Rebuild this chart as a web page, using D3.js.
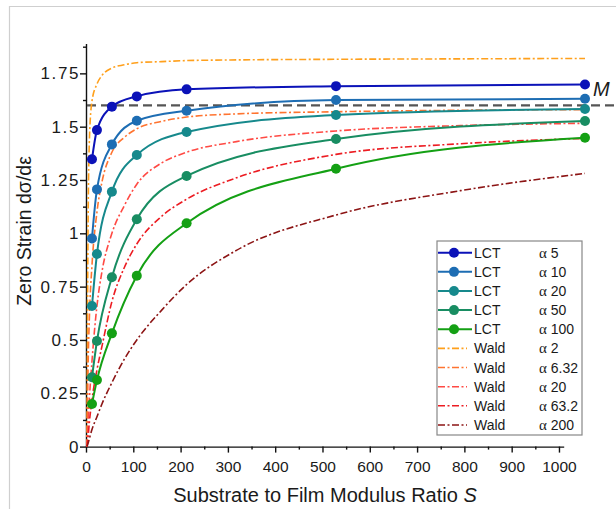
<!DOCTYPE html>
<html>
<head>
    <meta charset="utf-8">
    <style>
        body {
            margin: 0;
            background-color: #FFF;
        }
        svg text {
            font-family: "Liberation Sans", Arial, sans-serif;
            fill: #1a1a1a;
        }
        .greek {
            font-family: "Liberation Serif", "Times New Roman", serif;
        }
    </style>
</head>
<body>
<div id="chartArea"></div>
<script src="https://d3js.org/d3.v7.min.js"></script>
<script>
    /* -----------------------------------
        data
    ----------------------------------- */
    var lctS = [10, 20, 50, 100, 200, 500, 1000];
    var lctAlphas = ["5", "10", "20", "50", "100"];
    var lct5   = [1.347, 1.484, 1.594, 1.642, 1.675, 1.690, 1.698];
    var lct10  = [0.976, 1.206, 1.417, 1.528, 1.575, 1.625, 1.631];
    var lct20  = [0.659, 0.903, 1.195, 1.367, 1.475, 1.555, 1.583];
    var lct50  = [0.325, 0.495, 0.794, 1.066, 1.269, 1.442, 1.527];
    var lct100 = [0.200, 0.312, 0.531, 0.801, 1.047, 1.303, 1.448];
    var lctColors = ["#0b12b8", "#1d6db3", "#16898c", "#188d62", "#14a014"];

    var waldS = [0, 2, 5, 10, 20, 30, 50, 75, 100, 150, 200, 300, 500, 750, 1000];
    var waldAlphas = ["2", "6.32", "20", "63.2", "200"];
    var wald2   = [0, 1.00, 1.45, 1.62, 1.70, 1.74, 1.775, 1.79, 1.80, 1.805, 1.81, 1.813, 1.816, 1.818, 1.82];
    var wald632 = [0, 0.35, 0.62, 0.85, 1.10, 1.24, 1.38, 1.45, 1.49, 1.525, 1.545, 1.56, 1.57, 1.577, 1.58];
    var wald20  = [0, 0.09, 0.23, 0.40, 0.66, 0.82, 1.00, 1.13, 1.23, 1.33, 1.38, 1.43, 1.48, 1.505, 1.516];
    var wald632b = [0, 0.04, 0.12, 0.22, 0.36, 0.47, 0.68, 0.84, 0.95, 1.08, 1.16, 1.26, 1.37, 1.42, 1.445];
    var wald200 = [0, 0.015, 0.04, 0.08, 0.14, 0.20, 0.30, 0.41, 0.50, 0.64, 0.76, 0.92, 1.086, 1.20, 1.281];
    var waldColors = ["#ffa01c", "#ff7430", "#ff4a44", "#ec1c22", "#8c1414"];

    var xTicks = [0, 100, 200, 300, 400, 500, 600, 700, 800, 900, 1000];
    var yTicks = [0, 0.25, 0.5, 0.75, 1, 1.25, 1.5, 1.75];
    var mValue = 1.6;

    /* -----------------------------------
        initialize
    ----------------------------------- */
    var width = 616, height = 509;

    var svg = d3.select("#chartArea").append("svg")
        .attr("width", width)
        .attr("height", height);

    // axis scale and the (slightly wider) data scale of the original figure
    var xAxisScale = d3.scaleLinear().domain([0, 1010]).range([86, 563.7]);
    var x = d3.scaleLinear().domain([0, 1000]).range([87, 585]);
    var y = d3.scaleLinear().domain([0, 1.89]).range([446.6, 43.5]);

    // light frame
    svg.append("path")
        .attr("d", "M9.5," + height + "V6.5H" + width)
        .attr("fill", "none")
        .attr("stroke", "#cfcfcf")
        .attr("stroke-width", 1.2);

    /* -----------------------------------
        axes
    ----------------------------------- */
    var gx = svg.append("g").attr("transform", "translate(0," + y(0) + ")");
    gx.call(d3.axisBottom(xAxisScale).tickValues(xTicks).tickSize(6).tickSizeOuter(0).tickPadding(8)
        .tickFormat(d3.format("d")));
    var gxMinor = svg.append("g").attr("transform", "translate(0," + y(0) + ")");
    gxMinor.call(d3.axisBottom(xAxisScale).tickValues(d3.range(50, 1001, 100)).tickSize(3).tickFormat(""));
    gxMinor.select(".domain").remove();

    var gy = svg.append("g").attr("transform", "translate(" + xAxisScale(0) + ",0)");
    gy.call(d3.axisLeft(y).tickValues(yTicks).tickSize(6).tickSizeOuter(0).tickPadding(0)
        .tickFormat(function(d) { return String(d); }));
    var gyMinor = svg.append("g").attr("transform", "translate(" + xAxisScale(0) + ",0)");
    gyMinor.call(d3.axisLeft(y).tickValues(d3.range(0.125, 1.89, 0.25)).tickSize(3).tickFormat(""));
    gyMinor.select(".domain").remove();

    svg.selectAll(".domain, .tick line")
        .attr("stroke", "#111")
        .attr("stroke-width", 1.4);
    gx.selectAll(".tick text")
        .attr("font-size", 15.5)
        .attr("fill", "#1a1a1a");
    gy.selectAll(".tick text")
        .attr("font-size", 17)
        .attr("letter-spacing", 1.6)
        .attr("fill", "#1a1a1a");

    // titles
    var xt = svg.append("text")
        .attr("x", 325).attr("y", 502)
        .attr("text-anchor", "middle")
        .attr("font-size", 20);
    xt.append("tspan").text("Substrate to Film Modulus Ratio ");
    xt.append("tspan").attr("font-style", "italic").text("S");

    svg.append("text")
        .attr("transform", "translate(31,231) rotate(-90)")
        .attr("text-anchor", "middle")
        .attr("font-size", 19.5)
        .text("Zero Strain d\u03c3/d\u03b5");

    /* -----------------------------------
        M line
    ----------------------------------- */
    svg.append("line")
        .attr("x1", xAxisScale(0) + 1).attr("x2", width)
        .attr("y1", y(mValue)).attr("y2", y(mValue))
        .attr("stroke", "#555")
        .attr("stroke-width", 2.4)
        .attr("stroke-dasharray", "9,5");

    svg.append("text")
        .attr("x", 593).attr("y", 96)
        .attr("font-size", 20)
        .attr("font-style", "italic")
        .attr("fill", "#333")
        .text("M");

    /* -----------------------------------
        curves
    ----------------------------------- */
    var waldSets = [wald2, wald632, wald20, wald632b, wald200];
    var lctSets = [lct5, lct10, lct20, lct50, lct100];

    var line = d3.line()
        .x(function(d) { return x(d[0]); })
        .y(function(d) { return y(d[1]); })
        .curve(d3.curveMonotoneX);

    var dashDot = "7,2.5,2,2.5";

    waldSets.forEach(function(vals, i) {
        svg.append("path")
            .datum(waldS.map(function(s, j) { return [s, vals[j]]; }))
            .attr("d", line)
            .attr("fill", "none")
            .attr("stroke", waldColors[i])
            .attr("stroke-width", 1.6)
            .attr("stroke-dasharray", dashDot);
    });

    lctSets.forEach(function(vals, i) {
        var pts = lctS.map(function(s, j) { return [s, vals[j]]; });
        svg.append("path")
            .datum(pts)
            .attr("d", line)
            .attr("fill", "none")
            .attr("stroke", lctColors[i])
            .attr("stroke-width", 2);
        svg.append("g").selectAll("circle")
            .data(pts)
            .enter().append("circle")
            .attr("cx", function(d) { return x(d[0]); })
            .attr("cy", function(d) { return y(d[1]); })
            .attr("r", 5)
            .attr("fill", lctColors[i]);
    });

    /* -----------------------------------
        legend
    ----------------------------------- */
    var legendItems = lctAlphas.map(function(a, i) {
        return {name: "LCT", alpha: a, color: lctColors[i], marker: true};
    }).concat(waldAlphas.map(function(a, i) {
        return {name: "Wald", alpha: a, color: waldColors[i], marker: false};
    }));

    var lg = svg.append("g").attr("transform", "translate(437,241)");
    lg.append("rect")
        .attr("x", 0).attr("y", 0)
        .attr("width", 145).attr("height", 194)
        .attr("fill", "#fff")
        .attr("stroke", "#888")
        .attr("stroke-width", 1.2);

    var rows = lg.selectAll(".row")
        .data(legendItems)
        .enter().append("g")
        .attr("class", "row")
        .attr("transform", function(d, i) { return "translate(0," + (11.7 + i * 19.14) + ")"; });

    rows.append("line")
        .attr("x1", 1).attr("x2", function(d) { return d.marker ? 35 : 30; })
        .attr("y1", 0).attr("y2", 0)
        .attr("stroke", function(d) { return d.color; })
        .attr("stroke-width", function(d) { return d.marker ? 2 : 1.6; })
        .attr("stroke-dasharray", function(d) { return d.marker ? null : dashDot; });

    rows.filter(function(d) { return d.marker; }).append("circle")
        .attr("cx", 17).attr("cy", 0).attr("r", 5)
        .attr("fill", function(d) { return d.color; });

    rows.append("text")
        .attr("x", 37).attr("dy", "0.36em")
        .attr("font-size", 14)
        .text(function(d) { return d.name; });

    var at = rows.append("text")
        .attr("x", 102).attr("dy", "0.36em")
        .attr("font-size", 14);
    at.append("tspan").attr("class", "greek").attr("font-size", 15).text("\u03b1");
    at.append("tspan").text(function(d) { return " " + d.alpha; });
</script>
</body>
</html>
